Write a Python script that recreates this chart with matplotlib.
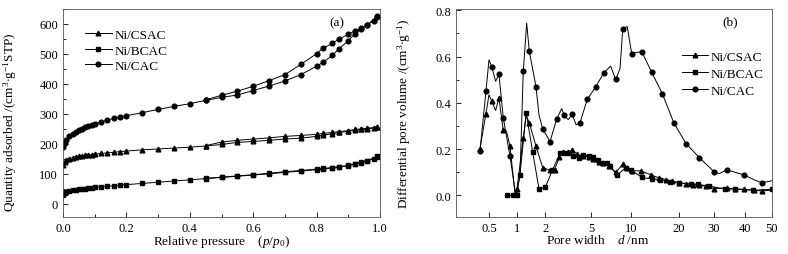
import numpy as np
import matplotlib
matplotlib.use('Agg')
import matplotlib.pyplot as plt
from matplotlib.lines import Line2D

plt.rcParams['font.family'] = ['Liberation Serif', 'DejaVu Serif']
plt.rcParams['mathtext.fontset'] = 'custom'
plt.rcParams['mathtext.rm'] = 'Liberation Serif'
plt.rcParams['mathtext.it'] = 'Liberation Serif:italic'

# ---- (a) N2 isotherms: adsorption / desorption branches ----
p_ads = [0.001, 0.005, 0.01, 0.02, 0.03, 0.04, 0.05, 0.06, 0.07, 0.08, 0.09, 0.1, 0.12, 0.14, 0.16,
         0.18, 0.2, 0.25, 0.3, 0.35, 0.4, 0.45, 0.5, 0.55, 0.6, 0.65, 0.7, 0.75, 0.8, 0.82, 0.85,
         0.87, 0.9, 0.92, 0.94, 0.96, 0.98, 0.99]
p_des = [0.99, 0.96, 0.94, 0.92, 0.9, 0.87, 0.85, 0.82, 0.8, 0.75, 0.7, 0.65, 0.6, 0.55, 0.5, 0.45]

cac_ads = [190, 203, 213, 225, 233, 240, 245, 250, 255, 259, 262, 266, 273, 279, 285, 290, 294, 304,
           315, 325, 334, 345, 355, 363, 378, 393, 410, 431, 459, 472, 495, 517, 544, 567, 582, 598,
           610, 622]
cac_des = [625, 597, 585, 577, 565, 550, 535, 519, 501, 465, 431, 411, 392, 376, 362, 347]

csac_ads = [130, 140, 146, 151, 154, 157, 159, 161, 162, 163, 164, 166, 168, 170, 172, 174, 176, 180,
            183, 186, 189, 193, 198, 205, 208, 212, 216, 219, 225, 229, 234, 238, 242, 245, 248, 250,
            253, 256]
csac_des = [256, 252, 250, 248, 244, 241, 238, 235, 232, 228, 225, 220, 216, 212, 206, 194]

bcac_ads = [28, 36, 40, 43, 45, 47, 48, 50, 51, 52, 54, 55, 57, 59, 60, 62, 64, 68, 72, 76, 80, 84,
            88, 92, 96, 100, 105, 109, 114, 116, 119, 122, 127, 132, 137, 143, 150, 157]
bcac_des = [158, 144, 139, 134, 128, 124, 121, 118, 116, 111, 107, 102, 97, 93, 89, 85]

# ---- (b) pore size distribution ----
cac_d = [0.40, 0.464, 0.50, 0.534, 0.59, 0.64, 0.712, 0.841, 0.97, 1.076, 1.166, 1.266, 1.349, 1.587,
         1.71, 1.868, 2.19, 2.51, 2.77, 2.92, 3.16, 3.43, 3.7, 4.01, 4.64, 5.42, 6.26, 7.03, 7.67,
         8.27, 8.67, 9.37, 10.1, 11.67, 13.48, 15.72, 18.6, 21.7, 25.3, 30.0, 31.5, 33.8, 39.7,
         43.5, 46.0, 50.0]
cac_v = [0.19, 0.45, 0.586, 0.557, 0.493, 0.525, 0.335, 0.17, 0.0, 0.086, 0.537, 0.745, 0.624, 0.47,
         0.346, 0.288, 0.232, 0.331, 0.375, 0.346, 0.327, 0.35, 0.305, 0.314, 0.415, 0.469, 0.531,
         0.559, 0.501, 0.548, 0.72, 0.73, 0.613, 0.622, 0.532, 0.44, 0.312, 0.224, 0.163, 0.102,
         0.094, 0.11, 0.088, 0.065, 0.054, 0.063]
cac_mark = [0, 1, 3, 5, 6, 7, 10, 12, 13, 15, 16, 17, 19, 21, 23, 24, 25, 26, 28, 30, 32, 33, 34,
            35, 36, 37, 38, 39, 41, 42, 44]

csac_d = [0.40, 0.464, 0.50, 0.534, 0.59, 0.64, 0.712, 0.77, 0.841, 0.95, 1.0, 1.166, 1.25, 1.349,
          1.587, 1.868, 2.19, 2.4, 2.65, 2.87, 3.16, 3.43, 3.8, 4.3, 4.8, 5.2, 5.7, 6.2, 6.8, 7.7,
          8.67, 9.4, 10.2, 11.6, 13.4, 15.0, 16.5, 18.0, 20.0, 21.7, 23.5, 25.3, 27.5, 30.0, 33.8,
          36.5, 39.7, 43.0, 46.0, 50.0]
csac_v = [0.202, 0.353, 0.435, 0.408, 0.367, 0.421, 0.281, 0.278, 0.213, 0.01, 0.026, 0.249, 0.346,
          0.314, 0.213, 0.12, 0.108, 0.111, 0.166, 0.187, 0.187, 0.197, 0.177, 0.17, 0.165, 0.155,
          0.142, 0.14, 0.125, 0.1, 0.134, 0.12, 0.107, 0.105, 0.088, 0.075, 0.068, 0.062, 0.055,
          0.05, 0.046, 0.043, 0.038, 0.029, 0.032, 0.027, 0.026, 0.021, 0.019, 0.022]
csac_skip = [2, 4, 7, 9, 12, 49]

bcac_d = [0.79, 0.91, 0.99, 1.076, 1.25, 1.465, 1.71, 2.0, 2.31, 2.7, 2.94, 3.2, 3.5, 3.9, 4.3, 4.8,
          5.2, 5.6, 6.0, 6.6, 7.0, 7.8, 9.1, 10.0, 11.7, 13.5, 15.3, 17.6, 20.0, 22.9, 25.0, 28.3,
          33.3, 36.5, 42.9, 50.0]
bcac_v = [0.0, 0.0, 0.0, 0.089, 0.357, 0.187, 0.026, 0.036, 0.111, 0.184, 0.184, 0.184, 0.169, 0.163,
          0.176, 0.171, 0.166, 0.151, 0.14, 0.141, 0.127, 0.086, 0.118, 0.11, 0.077, 0.071, 0.068,
          0.058, 0.053, 0.05, 0.047, 0.04, 0.027, 0.027, 0.022, 0.026]

labels = ['Ni/CSAC', 'Ni/BCAC', 'Ni/CAC']
markers = ['^', 's', 'o']

# odd non-uniform pore width axis of the original: piecewise log between tick marks
knot_d = [0.1, 0.5, 1, 2, 5, 10, 20, 30, 40, 50, 100]
knot_pos = [424, 489, 517, 545.5, 591, 631, 679, 714, 745, 772, 858]
log_k = np.log10(knot_d)


def fwd(x):
    x = np.clip(np.asarray(x, dtype=float), 1e-3, None)
    return np.interp(np.log10(x), log_k, knot_pos)


def inv(y):
    return 10 ** np.interp(y, knot_pos, log_k)


fig = plt.figure(figsize=(7.88, 2.55), dpi=100)
H = 255.0
W = 788.0
ax1 = fig.add_axes([63 / W, 1 - 218 / H, 317 / W, 208 / H])
ax2 = fig.add_axes([456 / W, 1 - 218 / H, 316 / W, 208 / H])

lw = 0.7
ms = 3.4
kw = dict(color='black', lw=lw, ms=ms)

# panel (a)
for ads, des, m in [(csac_ads, csac_des, '^'), (bcac_ads, bcac_des, 's'), (cac_ads, cac_des, 'o')]:
    ax1.plot(p_ads, ads, marker=m, **kw)
    ax1.plot(p_des, des, marker=m, **kw)

ax1.set_xlim(0, 1.0)
ax1.set_ylim(-44, 650)
ax1.set_xticks(np.arange(0, 1.01, 0.2))
ax1.set_xticks(np.arange(0.1, 1.0, 0.2), minor=True)
ax1.set_yticks(np.arange(0, 601, 100))
ax1.set_yticks(np.arange(50, 651, 100), minor=True)
ax1.set_xticklabels(['%.1f' % v for v in np.arange(0, 1.01, 0.2)])
ax1.set_xlabel(r'Relative pressure    $(p/p_0)$', fontsize=9.5)
ax1.set_ylabel(r'Quantity adsorbed /(cm$^3$$\cdot$g$^{-1}$STP)', fontsize=9.5)
ax1.xaxis.set_label_coords(0.5, -0.075)
ax1.yaxis.set_label_coords(-0.14, 0.46)
ax1.text(0.865, 0.935, '(a)', transform=ax1.transAxes, fontsize=9.5, ha='center', va='center')

h1 = [Line2D([], [], marker=m, **kw) for m in markers]
ax1.legend(h1, labels, loc='upper left', bbox_to_anchor=(0.07, 0.905), frameon=False, fontsize=9.5,
           handlelength=2.0, handletextpad=0.2, labelspacing=0.25, borderaxespad=0, borderpad=0)

# panel (b)
ax2.set_xscale('function', functions=(fwd, inv))
csac_mark = [i for i in range(len(csac_d)) if i not in csac_skip]
ax2.plot(csac_d, csac_v, marker='^', markevery=csac_mark, **kw)
ax2.plot(bcac_d, bcac_v, marker='s', **kw)
ax2.plot(cac_d, cac_v, marker='o', markevery=cac_mark, **kw)

ax2.set_xlim(0.221, 50)
ax2.set_ylim(-0.094, 0.806)
xt = [0.5, 1, 2, 5, 10, 20, 30, 40, 50]
ax2.set_xticks(xt)
ax2.set_xticklabels([str(v) for v in xt])
ax2.xaxis.set_minor_locator(matplotlib.ticker.NullLocator())
ax2.set_yticks(np.arange(0, 0.81, 0.2))
ax2.set_yticks(np.arange(0.1, 0.8, 0.2), minor=True)
ax2.set_yticklabels(['%.1f' % v for v in np.arange(0, 0.81, 0.2)])
ax2.set_xlabel(r'Pore width    $d$ /nm', fontsize=9.5)
ax2.set_ylabel(r'Differential pore volume /(cm$^3$$\cdot$g$^{-1}$)', fontsize=9.5)
ax2.xaxis.set_label_coords(0.45, -0.075)
ax2.yaxis.set_label_coords(-0.135, 0.5)
ax2.text(0.867, 0.94, '(b)', transform=ax2.transAxes, fontsize=9.5, ha='center', va='center')

h2 = [Line2D([], [], marker=m, **kw) for m in markers]
ax2.legend(h2, labels, loc='upper left', bbox_to_anchor=(0.715, 0.8), frameon=False, fontsize=9.5,
           handlelength=2.0, handletextpad=0.2, labelspacing=0.35, borderaxespad=0, borderpad=0)

for ax in (ax1, ax2):
    ax.tick_params(which='both', direction='in', top=False, right=False, labelsize=9, width=0.6)
    ax.tick_params(which='major', length=3.5)
    ax.tick_params(which='minor', length=2)
    for s in ax.spines.values():
        s.set_linewidth(0.6)
        s.set_color('#555555')

fig.savefig('out.png', dpi=100)
